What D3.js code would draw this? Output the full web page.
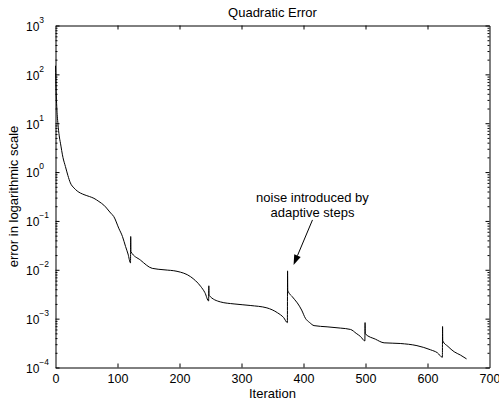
<!DOCTYPE html>
<meta charset="utf-8">
<style>
body { margin: 0; background: #fff; }
text { font-family: "Liberation Sans", Arial, sans-serif; fill: #000; }
.axis path, .axis line { stroke: #000; stroke-width: 1px; }
.line { fill: none; stroke: #000; stroke-width: 1px; }
</style>
<svg width="499" height="403"></svg>
<script src="https://d3js.org/d3.v7.min.js"></script>
<script>
// values
var iterations = [0, 1, 2, 4, 6, 8, 12, 16, 20, 24, 30, 35, 46, 55, 62, 70, 78, 89, 94, 102, 108, 113, 117,
  121, 121.3, 121.6, 137, 156, 175, 196, 218, 234, 241,
  247, 247.3, 247.6, 266, 288, 314, 341, 358, 368,
  374, 374.3, 374.6, 382, 390, 397, 403, 410, 417, 438, 460, 476, 485, 492,
  499, 499.3, 499.6, 516, 530, 556, 583, 605, 616,
  624, 624.3, 624.6, 633, 643, 653, 663];
var errors = [150, 45, 22, 9.5, 5.5, 3.9, 2.0, 1.3, 0.85, 0.6, 0.47, 0.41, 0.345, 0.315, 0.29, 0.25, 0.21, 0.145, 0.123, 0.071, 0.048, 0.030, 0.021,
  0.0138, 0.048, 0.0235, 0.0158, 0.0107, 0.0100, 0.0093, 0.0072, 0.0046, 0.0034,
  0.0023, 0.0047, 0.0030, 0.0022, 0.0020, 0.00186, 0.00166, 0.00132, 0.00105,
  0.00083, 0.0095, 0.0038, 0.0028, 0.0021, 0.0015, 0.00102, 0.00083, 0.00072, 0.00068, 0.00064, 0.0006, 0.0005, 0.00043,
  0.00035, 0.00083, 0.00049, 0.00038, 0.00032, 0.00031, 0.00028, 0.00023, 0.00020,
  0.000162, 0.00069, 0.00035, 0.00027, 0.00021, 0.00018, 0.00015];
var xTicks = [0, 100, 200, 300, 400, 500, 600, 700];
var yDecades = [-4, -3, -2, -1, 0, 1, 2, 3];
var noteLines = ["noise introduced by", "adaptive steps"];
var noteAt = {x: 414.5, y: 0.239};
var arrowFrom = {x: 414.5, y: 0.105}, arrowTo = {x: 384, y: 0.0126};

var data = iterations.map(function(d, i) { return {it: d, err: errors[i]}; });

var svg = d3.select("svg"),
    margin = {top: 25.5, right: 9.5, bottom: 35.5, left: 55.5},
    width = +svg.attr("width") - margin.left - margin.right,
    height = +svg.attr("height") - margin.top - margin.bottom,
    g = svg.append("g").attr("transform", "translate(" + margin.left + "," + margin.top + ")");

var x = d3.scaleLinear().domain([0, 700]).range([0, width]);
var y = d3.scaleLog().domain([1e-4, 1e3]).range([height, 0]);

var yMajor = yDecades.map(function(d) { return Math.pow(10, d); });
var yMinor = [];
yDecades.slice(0, -1).forEach(function(d) {
  for (var k = 2; k < 10; k++) yMinor.push(k * Math.pow(10, d));
});
var xInner = xTicks.slice(1, -1);

// bottom axis with labels
var gx = g.append("g")
    .attr("class", "axis")
    .attr("transform", "translate(0," + height + ")")
    .call(d3.axisBottom(x).tickValues(xTicks).tickSize(-4).tickSizeOuter(0).tickPadding(7).tickFormat(d3.format("d")));
gx.attr("font-family", null).attr("font-size", null);
gx.selectAll("text").style("font-size", "12.5px");
gx.selectAll(".tick line").filter(function(d) { return d === 0 || d === 700; }).remove();

// top axis
g.append("g")
    .attr("class", "axis")
    .call(d3.axisTop(x).tickValues(xInner).tickSize(-4).tickSizeOuter(0).tickFormat(""));

// left axis
g.append("g")
    .attr("class", "axis")
    .call(d3.axisLeft(y).tickValues(yMajor).tickSize(-4).tickSizeOuter(0).tickFormat(""));
g.append("g")
    .attr("class", "axis")
    .call(d3.axisLeft(y).tickValues(yMinor).tickSize(-2).tickSizeOuter(0).tickFormat(""))
    .select(".domain").remove();

// right axis
g.append("g")
    .attr("class", "axis")
    .attr("transform", "translate(" + width + ",0)")
    .call(d3.axisRight(y).tickValues(yMajor).tickSize(-4).tickSizeOuter(0).tickFormat(""));
g.append("g")
    .attr("class", "axis")
    .attr("transform", "translate(" + width + ",0)")
    .call(d3.axisRight(y).tickValues(yMinor).tickSize(-2).tickSizeOuter(0).tickFormat(""))
    .select(".domain").remove();

// y labels 10^n
var ylab = g.selectAll(".ylab")
  .data(yDecades)
  .enter().append("text")
    .attr("class", "ylab")
    .attr("x", 26 - margin.left)
    .attr("y", function(d) { return y(Math.pow(10, d)); })
    .attr("dy", "0.45em")
    .style("font-size", "12px");
ylab.append("tspan").text("10");
ylab.append("tspan")
    .attr("dy", -8)
    .style("font-size", "8.5px")
    .text(function(d) { return d < 0 ? "\u2212" + (-d) : d; });

// the curve
var line = d3.line()
    .curve(d3.curveMonotoneX)
    .x(function(d) { return x(d.it); })
    .y(function(d) { return y(d.err); });
g.append("path")
    .datum(data)
    .attr("class", "line")
    .attr("d", line);

// titles
g.append("text")
    .attr("x", width / 2)
    .attr("y", -9)
    .attr("text-anchor", "middle")
    .style("font-size", "13px")
    .text("Quadratic Error");
g.append("text")
    .attr("x", width / 2)
    .attr("y", height + 30)
    .attr("text-anchor", "middle")
    .style("font-size", "13px")
    .text("Iteration");
g.append("text")
    .attr("transform", "translate(" + (17.5 - margin.left) + "," + (height / 2) + ") rotate(-90)")
    .attr("text-anchor", "middle")
    .style("font-size", "13px")
    .text("error in logarithmic scale");

// annotation
var note = g.append("text")
    .attr("x", x(noteAt.x))
    .attr("y", y(noteAt.y))
    .attr("text-anchor", "middle")
    .style("font-size", "13px");
note.selectAll("tspan")
  .data(noteLines)
  .enter().append("tspan")
    .attr("x", x(noteAt.x))
    .attr("dy", function(d, i) { return i ? "1.15em" : 0; })
    .text(function(d) { return d; });

var x0 = x(arrowFrom.x), y0 = y(arrowFrom.y), x1 = x(arrowTo.x), y1 = y(arrowTo.y);
var ang = Math.atan2(y1 - y0, x1 - x0), headLen = 10, headW = 3.5;
var bx = x1 - headLen * Math.cos(ang), by = y1 - headLen * Math.sin(ang);
g.append("line")
    .attr("x1", x0).attr("y1", y0).attr("x2", bx).attr("y2", by)
    .attr("stroke", "#000").attr("stroke-width", 1);
g.append("path")
    .attr("d", "M" + x1 + "," + y1 +
      "L" + (bx - headW * Math.sin(ang)) + "," + (by + headW * Math.cos(ang)) +
      "L" + (bx + headW * Math.sin(ang)) + "," + (by - headW * Math.cos(ang)) + "Z")
    .attr("fill", "#000");
</script>
